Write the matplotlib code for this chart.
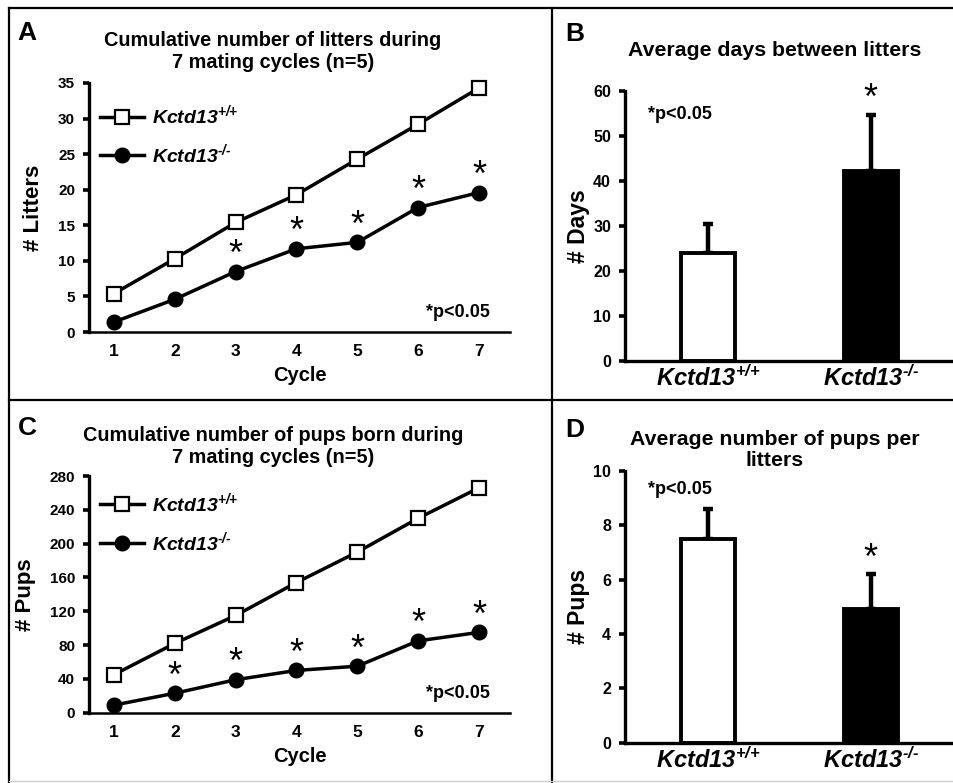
import matplotlib
matplotlib.use("Agg")
import matplotlib.pyplot as plt
from matplotlib.lines import Line2D
import numpy as np

plt.rcParams['font.family'] = ['Liberation Sans', 'DejaVu Sans']
plt.rcParams['font.weight'] = 'bold'
plt.rcParams['mathtext.fontset'] = 'custom'
plt.rcParams['mathtext.it'] = 'Liberation Sans:italic:bold'
plt.rcParams['mathtext.rm'] = 'Liberation Sans:italic:bold'
plt.rcParams['mathtext.bf'] = 'Liberation Sans:italic:bold'
plt.rcParams['mathtext.sf'] = 'Liberation Sans:italic:bold'

# ---------------- data ----------------
cycles = [1, 2, 3, 4, 5, 6, 7]
litters_wt = [5.4, 10.3, 15.4, 19.3, 24.3, 29.2, 34.3]
litters_ko = [1.4, 4.6, 8.5, 11.7, 12.6, 17.5, 19.6]
litters_sig = [False, False, True, True, True, True, True]

pups_wt = [45, 82, 115, 154, 190, 230, 266]
pups_ko = [9, 23, 39, 50, 55, 85, 95]
pups_sig = [False, True, True, True, True, True, True]

genotypes = [r'$Kctd13^{\text{+/+}}$', r'$Kctd13^{\text{-/-}}$']
days_mean = [24.0, 42.1]
days_err = [6.4, 12.6]
days_sig = [False, True]

pups_mean = [7.5, 4.9]
pups_err = [1.1, 1.3]
pups_sig_bar = [False, True]

W, H = 954, 783
fig = plt.figure(figsize=(W / 100, H / 100), dpi=100)


def ax_px(x0, x1, y0, y1):
    """axes from pixel box (left, right, top, bottom)"""
    return fig.add_axes([x0 / W, 1 - y1 / H, (x1 - x0) / W, (y1 - y0) / H])


def style_axes(ax, bottom_lw=2.0):
    for s in ['top', 'right']:
        ax.spines[s].set_visible(False)
    ax.spines['left'].set_linewidth(2.4)
    ax.spines['bottom'].set_linewidth(bottom_lw)
    ax.tick_params(axis='y', direction='out', length=4, width=2.6, labelsize=11, pad=6)
    ax.tick_params(axis='x', length=0, labelsize=12.5, pad=9)
    for lab in ax.get_yticklabels() + ax.get_xticklabels():
        lab.set_fontweight('bold')


def line_panel(ax, wt, ko, sig, ymax, yticks, ylabel, ax_title, letter, letter_y,
               title_y, leg_y):
    ax.plot(cycles, wt, color='black', lw=2.5, marker='s', ms=9.5, mfc='white',
            mec='black', mew=1.6, label=genotypes[0], zorder=3, clip_on=False)
    ax.plot(cycles, ko, color='black', lw=2.5, marker='o', ms=10.5, mfc='black',
            mec='black', label=genotypes[1], zorder=3, clip_on=False)
    for c, v, s in zip(cycles, ko, sig):
        if s:
            ax.annotate('*', (c, v), xytext=(0, -1), textcoords='offset points',
                        ha='center', va='bottom', fontsize=26, fontweight='normal')
    ax.set_xlim(0.59, 7.51)
    ax.set_ylim(0, ymax)
    ax.set_yticks(yticks)
    ax.set_xticks(cycles)
    style_axes(ax, bottom_lw=1.8)
    ax.set_xlabel('Cycle', fontsize=14.5, fontweight='bold', labelpad=5)
    ax.set_ylabel(ylabel, fontsize=16, fontweight='bold', labelpad=10)
    ax.text(0.952, 0.08, '*p<0.05', transform=ax.transAxes, ha='right', va='center',
            fontsize=13, fontweight='bold')
    ax.legend(loc='upper left', bbox_to_anchor=(0.025, leg_y), frameon=False,
              borderaxespad=0, borderpad=0, handlelength=2.3, handletextpad=0.4,
              labelspacing=0.75, prop={'size': 14})
    fig.text(273 / W, 1 - title_y / H, ax_title, ha='center', va='center',
             fontsize=14.3, fontweight='bold', linespacing=1.2)
    fig.text(27 / W, 1 - letter_y / H, letter, ha='center', va='center',
             fontsize=19, fontweight='bold')


def bar_panel(ax, means, errs, sig, ymax, yticks, ylabel, ax_title, letter, letter_y,
              title_y, p_xy):
    x = np.arange(len(means))
    ax.bar(x, means, width=0.33, color=['white', 'black'], edgecolor='black',
           linewidth=2.8, zorder=2)
    ax.errorbar(x, means, yerr=[np.zeros(len(errs)), errs], fmt='none',
                ecolor='black', elinewidth=3.2, capsize=3.5, capthick=3.2, zorder=1)
    for xi, m, e, s in zip(x, means, errs, sig):
        if s:
            ax.annotate('*', (xi, m + e), xytext=(0, -2), textcoords='offset points',
                        ha='center', va='bottom', fontsize=26, fontweight='normal')
    ax.set_xlim(-0.51, 1.50)
    ax.set_ylim(0, ymax)
    ax.set_yticks(yticks)
    ax.set_xticks(x)
    ax.set_xticklabels(genotypes)
    style_axes(ax, bottom_lw=2.4)
    ax.tick_params(axis='x', labelsize=17, pad=3)
    ax.tick_params(axis='y', labelsize=11.5)
    ax.set_ylabel(ylabel, fontsize=16.5, fontweight='bold', labelpad=2)
    ax.text(p_xy[0], p_xy[1], '*p<0.05', transform=ax.transAxes, ha='left',
            va='center', fontsize=13, fontweight='bold')
    fig.text(775 / W, 1 - title_y / H, ax_title, ha='center', va='center',
             fontsize=15.3, fontweight='bold', linespacing=1.1)
    fig.text(575 / W, 1 - letter_y / H, letter, ha='center', va='center',
             fontsize=19, fontweight='bold')


axA = ax_px(89, 510, 83, 332)
line_panel(axA, litters_wt, litters_ko, litters_sig, 35, [0, 5, 10, 15, 20, 25, 30, 35],
           '# Litters', 'Cumulative number of litters during\n7 mating cycles (n=5)',
           'A', 33, 51, 0.918)

axC = ax_px(89, 510, 476, 712.7)
line_panel(axC, pups_wt, pups_ko, pups_sig, 280, [0, 40, 80, 120, 160, 200, 240, 280],
           '# Pups', 'Cumulative number of pups born during\n7 mating cycles (n=5)',
           'C', 428, 446.5, 0.935)

axB = ax_px(625, 952, 90.7, 360.7)
bar_panel(axB, days_mean, days_err, days_sig, 60, [0, 10, 20, 30, 40, 50, 60], '# Days',
          'Average days between litters', 'B', 34, 50, (0.07, 0.91))

axD = ax_px(625, 952, 470.7, 742.7)
bar_panel(axD, pups_mean, pups_err, pups_sig_bar, 10, [0, 2, 4, 6, 8, 10], '# Pups',
          'Average number of pups per\nlitters', 'D', 430, 450, (0.07, 0.93))

# panel borders
lw_b = 1.6
fig.add_artist(Line2D([9 / W, 1], [1 - 7.5 / H, 1 - 7.5 / H], color='black', lw=lw_b))
fig.add_artist(Line2D([9 / W, 9 / W], [0, 1 - 7.5 / H], color='black', lw=lw_b))
fig.add_artist(Line2D([552 / W, 552 / W], [0, 1 - 7.5 / H], color='black', lw=lw_b))
fig.add_artist(Line2D([9 / W, 1], [1 - 400 / H, 1 - 400 / H], color='black', lw=lw_b))
fig.add_artist(Line2D([9 / W, 1], [1 - 781 / H, 1 - 781 / H], color='#cccccc', lw=1))

fig.savefig('out.png', dpi=100)
